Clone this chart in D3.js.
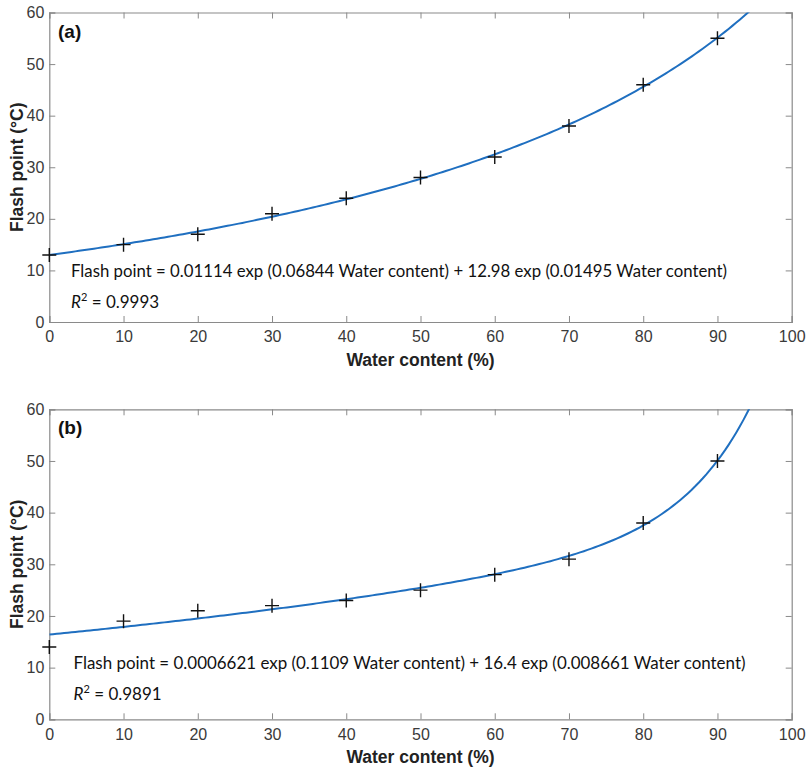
<!DOCTYPE html>
<html><head><meta charset="utf-8">
<script src="https://cdn.jsdelivr.net/npm/d3@7"></script>
<style>body{margin:0;background:#fff}</style>
</head><body>
<svg id="c" width="807" height="767"></svg>
<script>
// Data
const waterA = [0,10,20,30,40,50,60,70,80,90];
const flashA = [13,15,17,21,24,28,32,38,46,55];
const waterB = [0,10,20,30,40,50,60,70,80,90];
const flashB = [14,19,21,22,23,25,28,31,38,50];
// fit coefficients as printed in the chart: a*exp(b*x)+c*exp(d*x)
const coefA = [0.01114, 0.06844, 12.98, 0.01495];
const coefB = [0.0006621, 0.1109, 16.4, 0.008661];
const eqA = "Flash point = 0.01114 exp (0.06844 Water content) + 12.98 exp (0.01495 Water content)";
const eqB = "Flash point = 0.0006621 exp (0.1109 Water content) + 16.4 exp (0.008661 Water content)";
const r2A = "0.9993", r2B = "0.9891";
const xTicks = [0,10,20,30,40,50,60,70,80,90,100];
const yTicks = [0,10,20,30,40,50,60];

const svg = d3.select("#c");
const panels = [
  {label:"(a)", xs:waterA, ys:flashA, coef:coefA, eq:eqA, r2:r2A, top:12.5, bottom:322, eqW:656},
  {label:"(b)", xs:waterB, ys:flashB, coef:coefB, eq:eqB, r2:r2B, top:409.3, bottom:719.3, eqW:672}
];
const L = 49.3, R = 791.7;
const axisCol = "#8a8a8a", tickTxt = "#3a3a3a";
const arial = "'Liberation Sans',Arial,sans-serif";

panels.forEach((p,i) => {
  const x = d3.scaleLinear().domain([0,100]).range([L,R]);
  const y = d3.scaleLinear().domain([0,60]).range([p.bottom,p.top]);
  const g = svg.append("g");
  const clipId = "clip"+i;
  svg.append("clipPath").attr("id",clipId).append("rect")
    .attr("x",L).attr("y",p.top).attr("width",R-L).attr("height",p.bottom-p.top);

  // axes
  const ax = g.append("g").attr("transform",`translate(0,${p.bottom})`)
    .call(d3.axisBottom(x).tickValues(xTicks).tickSize(-6).tickPadding(9));
  const axT = g.append("g").attr("transform",`translate(0,${p.top})`)
    .call(d3.axisTop(x).tickValues(xTicks).tickSize(-6).tickFormat(""));
  const ay = g.append("g").attr("transform",`translate(${L},0)`)
    .call(d3.axisLeft(y).tickValues(yTicks).tickSize(-6).tickPadding(5));
  const ayR = g.append("g").attr("transform",`translate(${R},0)`)
    .call(d3.axisRight(y).tickValues(yTicks).tickSize(-6).tickFormat(""));
  [ax,axT,ay,ayR].forEach(a=>{
    a.selectAll("path").attr("stroke",axisCol).attr("stroke-width",1.2);
    a.selectAll("line").attr("stroke",axisCol).attr("stroke-width",1);
    a.selectAll("text").attr("fill",tickTxt).style("font-family",arial).style("font-size","16px");
  });

  // fitted curve from printed coefficients
  const [a,b,c,d] = p.coef;
  const fx = d3.range(0,100.01,0.5);
  const line = d3.line().x(v=>x(v)).y(v=>y(a*Math.exp(b*v)+c*Math.exp(d*v)));
  g.append("path").datum(fx).attr("d",line).attr("fill","none")
    .attr("stroke","#1f6fc0").attr("stroke-width",2).attr("clip-path",`url(#${clipId})`);

  // markers
  const s = 7;
  g.append("g").selectAll("path").data(p.xs).join("path")
    .attr("d",(v,j)=>{const px=x(v),py=y(p.ys[j]);return `M${px-s},${py}H${px+s}M${px},${py-s}V${py+s}`;})
    .attr("stroke","#111").attr("stroke-width",1.4).attr("fill","none");

  // panel label
  g.append("text").attr("x",58).attr("y",p.top+25).text(p.label)
    .style("font-family",arial).style("font-weight","bold").style("font-size","19px").attr("fill","#111");

  // equation
  const eqY = p.top + (i===0 ? 264 : 260);
  const ex = i===0?71:73.5;
  g.append("text").attr("x",ex).attr("y",eqY).text(p.eq)
    .attr("textLength",p.eqW).attr("lengthAdjust","spacingAndGlyphs")
    .style("font-family","Lato,'Open Sans',sans-serif").style("font-size","17px").attr("fill","#111");
  const r = g.append("text").attr("x",ex).attr("y",eqY+31)
    .style("font-family","Lato,'Open Sans',sans-serif").style("font-size","17px").attr("fill","#111");
  r.append("tspan").attr("font-style","italic").text("R");
  r.append("tspan").attr("dy",-7).style("font-size","11px").text("2");
  r.append("tspan").attr("dy",7).text(" = "+p.r2);

  // axis titles
  g.append("text").attr("x",(L+R)/2).attr("y",p.bottom+44).attr("text-anchor","middle")
    .text("Water content (%)").style("font-family",arial)
    .style("font-weight","bold").style("font-size","17.5px").attr("fill","#222");
  g.append("text").attr("transform",`translate(23,${(p.top+p.bottom)/2}) rotate(-90)`)
    .attr("text-anchor","middle").text("Flash point (°C)")
    .style("font-family",arial)
    .style("font-weight","bold").style("font-size","17.5px").attr("fill","#222");
});
</script>
</body></html>
